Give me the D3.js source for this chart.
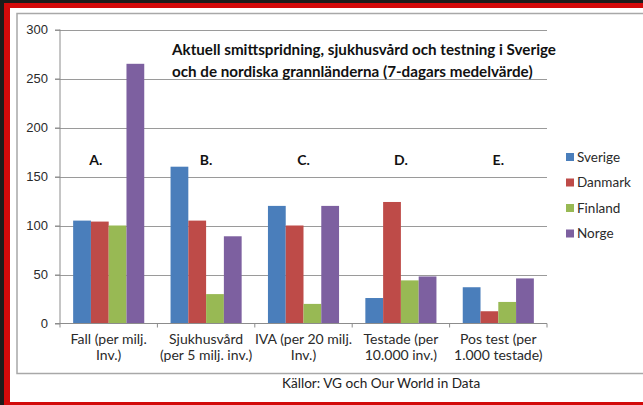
<!DOCTYPE html>
<html lang="sv">
<head>
    <meta charset="UTF-8">
    <title>Smittspridning i Norden</title>
    <style>
        body {
            margin: 0;
            background-color: #1c1c1a;
        }

        svg {
            display: block;
            font-family: Lato, "Open Sans", sans-serif;
        }

        .axis path,
        .axis line {
            stroke: #8c8c8c;
        }

        .axis text {
            fill: #2a2a2a;
            font-size: 13px;
        }

        .grid line {
            stroke: #9a9a9a;
        }
    </style>
</head>
<body>
    <svg id="chart" width="643" height="405"></svg>

    <script src="https://cdnjs.cloudflare.com/ajax/libs/d3/7.8.5/d3.min.js"></script>
    <script>
        // categories (two lines each) and the letter over each group
        const categories = ['Fall', 'Sjukhusvard', 'IVA', 'Testade', 'Postest'];
        const categoryLines = [
            ['Fall (per milj.', 'Inv.)'],
            ['Sjukhusvård', '(per 5 milj. inv.)'],
            ['IVA (per 20 milj.', 'Inv.)'],
            ['Testade (per', '10.000 inv.)'],
            ['Pos test (per', '1.000 testade)']
        ];
        const groupLetters = ['A.', 'B.', 'C.', 'D.', 'E.'];

        const countries = ['Sverige', 'Danmark', 'Finland', 'Norge'];
        const colors = ['#4a7ebb', '#be4b48', '#98b954', '#7d60a0'];

        // values per country, in category order
        const sverige = [105, 160, 120, 26, 37];
        const danmark = [104, 105, 100, 124, 12.5];
        const finland = [100, 30, 20, 44, 22];
        const norge = [265, 89, 120, 48, 46];

        const yTicks = [0, 50, 100, 150, 200, 250, 300];

        const titleLines = [
            'Aktuell smittspridning, sjukhusvård och testning i Sverige',
            'och de nordiska grannländerna (7-dagars medelvärde)'
        ];
        const sourceText = 'Källor: VG och Our World in Data';

        const series = [sverige, danmark, finland, norge];

        const svg = d3.select('#chart');

        // frame: red border, white sheet, grey chart box
        svg.append('rect')
            .attr('x', 4).attr('y', 3)
            .attr('width', 650).attr('height', 410)
            .attr('fill', '#d20a0a');
        svg.append('rect')
            .attr('x', 10).attr('y', 8)
            .attr('width', 640).attr('height', 394)
            .attr('fill', '#ffffff');
        svg.append('rect')
            .attr('x', 17).attr('y', 13.5)
            .attr('width', 640).attr('height', 360)
            .attr('fill', '#ffffff')
            .attr('stroke', '#a8a8a8')
            .attr('stroke-width', 1.5);

        const margin = { left: 60, right: 547, top: 29.5, bottom: 323.5 };

        const x0 = d3.scaleBand()
            .domain(categories)
            .range([margin.left, margin.right])
            .paddingInner(0.27)
            .paddingOuter(0.135);

        const step = x0.step();

        const x1 = d3.scaleBand()
            .domain(countries)
            .range([0, x0.bandwidth()]);

        const y = d3.scaleLinear()
            .domain([0, 300])
            .range([margin.bottom, margin.top]);

        // horizontal grid lines
        svg.append('g')
            .attr('class', 'grid')
            .selectAll('line')
            .data(yTicks.filter(d => d > 0))
            .join('line')
            .attr('x1', margin.left - 5)
            .attr('x2', margin.right)
            .attr('y1', d => Math.round(y(d)) + 0.5)
            .attr('y2', d => Math.round(y(d)) + 0.5);

        // y axis
        let yAxis = svg.append('g')
            .attr('class', 'axis')
            .attr('transform', `translate(${margin.left},0)`)
            .call(d3.axisLeft(y).tickValues(yTicks).tickSize(5).tickPadding(7));
        yAxis.select('.domain').attr('d', `M0,${margin.bottom}V${margin.top}`);

        // bars
        const groups = svg.append('g')
            .selectAll('g')
            .data(categories)
            .join('g')
            .attr('transform', d => `translate(${x0(d)},0)`);

        groups.selectAll('rect')
            .data((d, i) => countries.map((c, k) => ({ country: c, value: series[k][i] })))
            .join('rect')
            .attr('x', d => x1(d.country))
            .attr('width', x1.bandwidth())
            .attr('y', d => y(d.value))
            .attr('height', d => y(0) - y(d.value))
            .attr('fill', (d, k) => colors[k]);

        // x axis baseline with boundary ticks
        let xAxis = svg.append('g').attr('class', 'axis');
        xAxis.append('line')
            .attr('x1', margin.left - 5).attr('x2', margin.right)
            .attr('y1', y(0)).attr('y2', y(0));
        xAxis.selectAll('.tick')
            .data(d3.range(categories.length + 1))
            .join('line')
            .attr('x1', i => margin.left + i * step)
            .attr('x2', i => margin.left + i * step)
            .attr('y1', y(0)).attr('y2', y(0) + 4);

        // category labels
        svg.append('g')
            .selectAll('text')
            .data(categories)
            .join('text')
            .attr('text-anchor', 'middle')
            .attr('x', d => x0(d) + x0.bandwidth() / 2)
            .attr('y', 344)
            .attr('fill', '#2a2a2a')
            .style('font-size', '14px')
            .selectAll('tspan')
            .data((d, i) => categoryLines[i])
            .join('tspan')
            .attr('x', function () { return this.parentNode.getAttribute('x'); })
            .attr('dy', (d, j) => j === 0 ? 0 : 16)
            .text(d => d);

        // group letters
        svg.append('g')
            .selectAll('text')
            .data(categories)
            .join('text')
            .attr('text-anchor', 'middle')
            .attr('x', (d, i) => x0(d) + x0.bandwidth() / 2 - (i === 0 ? 13 : 0))
            .attr('y', 165)
            .attr('fill', '#111')
            .style('font-size', '14px')
            .style('font-weight', 'bold')
            .text((d, i) => groupLetters[i]);

        // title
        svg.append('text')
            .attr('x', 172)
            .attr('y', 55)
            .attr('fill', '#111')
            .style('font-size', '15.2px')
            .style('font-weight', 'bold')
            .selectAll('tspan')
            .data(titleLines)
            .join('tspan')
            .attr('x', 172)
            .attr('dy', (d, j) => j === 0 ? 0 : 22)
            .text(d => d);

        // legend
        const legend = svg.append('g')
            .selectAll('g')
            .data(countries)
            .join('g')
            .attr('transform', (d, i) => `translate(566,${157 + i * 25.5})`);
        legend.append('rect')
            .attr('x', 0).attr('y', -4)
            .attr('width', 8).attr('height', 8)
            .attr('fill', (d, i) => colors[i]);
        legend.append('text')
            .attr('x', 11)
            .attr('y', 4.5)
            .attr('fill', '#2a2a2a')
            .style('font-size', '13.5px')
            .text(d => d);

        // source
        svg.append('text')
            .attr('x', 282)
            .attr('y', 388)
            .attr('fill', '#222')
            .style('font-size', '13.6px')
            .text(sourceText);
    </script>
</body>
</html>
